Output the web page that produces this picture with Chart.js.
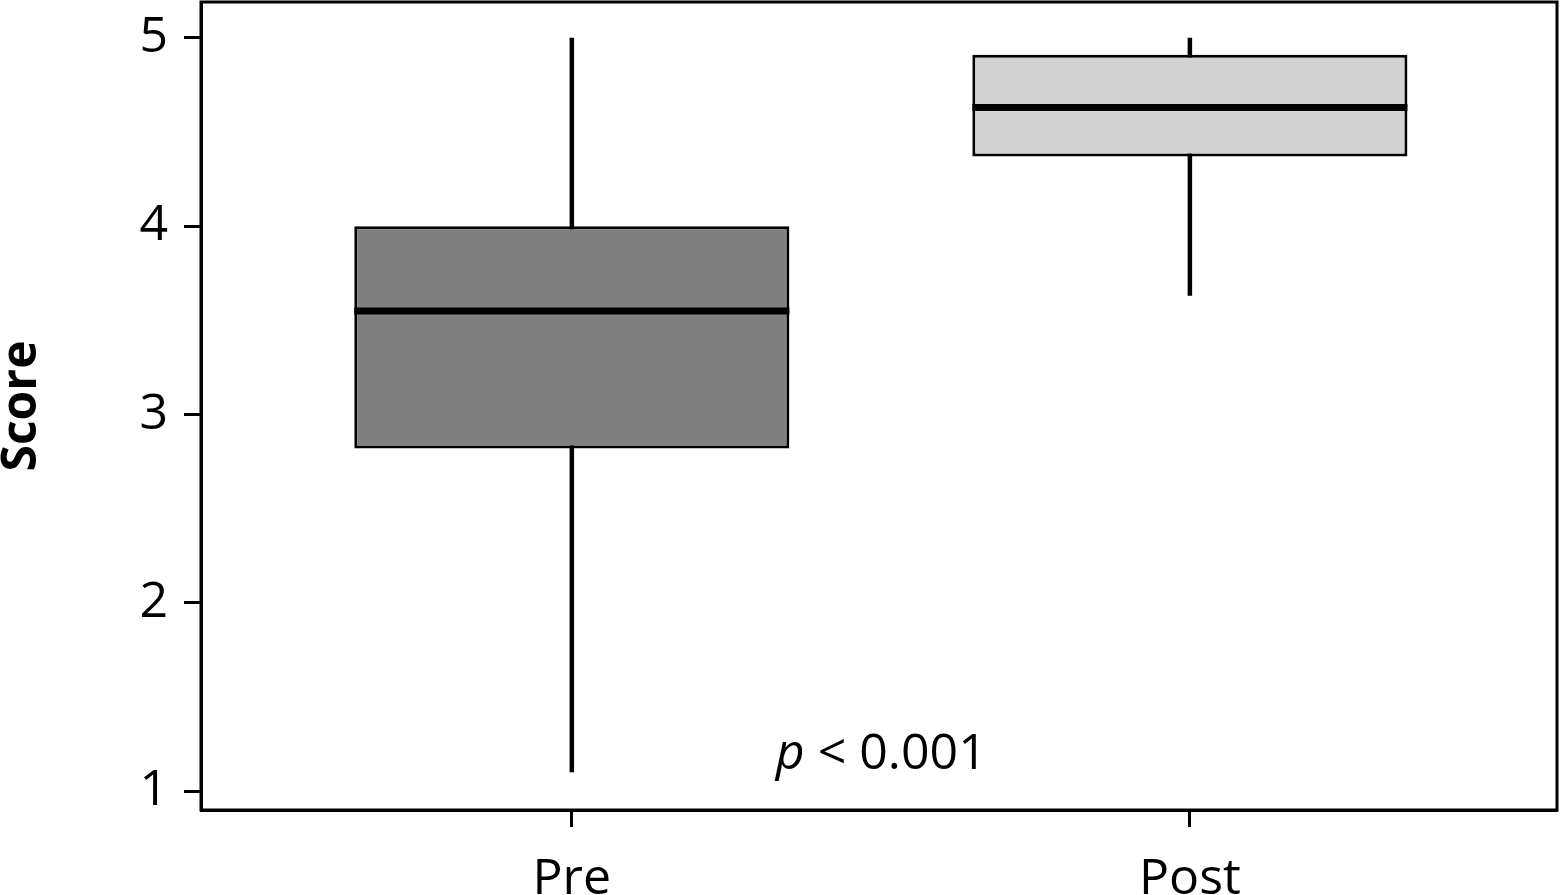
<!DOCTYPE html>
<html>
<head>
<meta charset="utf-8">
<script src="https://cdn.jsdelivr.net/npm/chart.js@4.4.1/dist/chart.umd.min.js"></script>
<style>
  html, body { margin: 0; padding: 0; background: #fff; }
  #wrap { width: 1563px; height: 895px; position: relative; }
</style>
</head>
<body>
<div id="wrap"><canvas id="c" width="1563" height="895"></canvas></div>
<script>
// ---- data ----
const categories = ['Pre', 'Post'];
const positions = [0, 1];
const whiskerMin = [1.1, 3.63];
const q1 = [2.82, 4.37];
const medians = [3.55, 4.63];
const q3 = [4.0, 4.91];
const whiskerMax = [5.0, 5.0];
const yTicks = [1, 2, 3, 4, 5];
const boxColors = ['#7f7f7f', '#d3d3d3'];
const pLabel = { x: 0.33, y: 1.12, italic: 'p', rest: ' < 0.001' };
const BOX_HALF = 0.352;

const FONT = '"Open Sans", "Noto Sans", sans-serif';

const whiskerDatasets = positions.map((p, i) => ({
  type: 'line',
  data: [{ x: p, y: whiskerMin[i] }, { x: p, y: whiskerMax[i] }],
  borderColor: '#000',
  borderWidth: 4.5,
  pointRadius: 0,
  fill: false,
  order: 3
}));

const medianDatasets = positions.map((p, i) => ({
  type: 'line',
  data: [{ x: p - BOX_HALF, y: medians[i] }, { x: p + BOX_HALF, y: medians[i] }],
  borderColor: '#000',
  borderWidth: 7,
  pointRadius: 0,
  fill: false,
  order: 1
}));

const boxDataset = {
  type: 'bar',
  data: positions.map((p, i) => ({ x: p, y: [q1[i], q3[i]] })),
  backgroundColor: boxColors,
  borderColor: '#000',
  borderWidth: 3,
  borderSkipped: false,
  barPercentage: BOX_HALF * 2,
  categoryPercentage: 1,
  grouped: false,
  order: 2
};

const framePlugin = {
  id: 'frame',
  afterDraw(chart) {
    const { ctx, chartArea: a, scales } = chart;
    ctx.save();
    ctx.strokeStyle = '#000';
    ctx.lineWidth = 3;
    ctx.strokeRect(a.left, a.top, a.right - a.left, a.bottom - a.top);
    // p-value annotation
    const px = scales.x.getPixelForValue(pLabel.x);
    const py = scales.y.getPixelForValue(pLabel.y);
    ctx.fillStyle = '#000';
    ctx.textBaseline = 'alphabetic';
    ctx.textAlign = 'left';
    ctx.font = 'italic 50px ' + FONT;
    ctx.fillText(pLabel.italic, px, py);
    const w = ctx.measureText(pLabel.italic).width;
    ctx.font = '50px ' + FONT;
    ctx.fillText(pLabel.rest, px + w, py);
    ctx.restore();
  }
};

new Chart(document.getElementById('c'), {
  type: 'bar',
  data: { datasets: [...whiskerDatasets, boxDataset, ...medianDatasets] },
  options: {
    responsive: false,
    animation: false,
    events: [],
    layout: { padding: { top: 2, right: 6, left: 0, bottom: 0 } },
    plugins: { legend: { display: false }, tooltip: { enabled: false } },
    scales: {
      x: {
        type: 'linear',
        min: -0.6,
        max: 1.594,
        offset: false,
        afterBuildTicks: s => { s.ticks = positions.map(v => ({ value: v })); },
        afterFit: s => { s.height = 85; s.paddingLeft = 0; s.paddingRight = 0; },
        ticks: {
          callback: (v) => categories[positions.indexOf(v)] ?? '',
          color: '#000',
          font: { family: FONT, size: 50 },
          padding: 23,
          maxRotation: 0,
          autoSkip: false
        },
        grid: { display: true, offset: false, drawOnChartArea: false, drawTicks: true, tickLength: 17, tickWidth: 3, tickColor: '#000' },
        border: { display: true, color: '#000', width: 3 }
      },
      y: {
        type: 'linear',
        min: 0.9,
        max: 5.19,
        afterBuildTicks: s => { s.ticks = yTicks.map(v => ({ value: v })); },
        afterFit: s => { s.width = 201; s.paddingTop = 0; s.paddingBottom = 0; },
        ticks: {
          callback: v => String(v),
          color: '#000',
          font: { family: FONT, size: 50 },
          padding: 16
        },
        grid: { display: true, offset: false, drawOnChartArea: false, drawTicks: true, tickLength: 17, tickWidth: 3, tickColor: '#000' },
        border: { display: true, color: '#000', width: 3 },
        title: {
          display: true,
          text: 'Score',
          color: '#000',
          font: { family: FONT, size: 48, weight: 'bold', lineHeight: 0.95 },
          padding: 0
        }
      }
    }
  },
  plugins: [framePlugin]
});
</script>
</body>
</html>
